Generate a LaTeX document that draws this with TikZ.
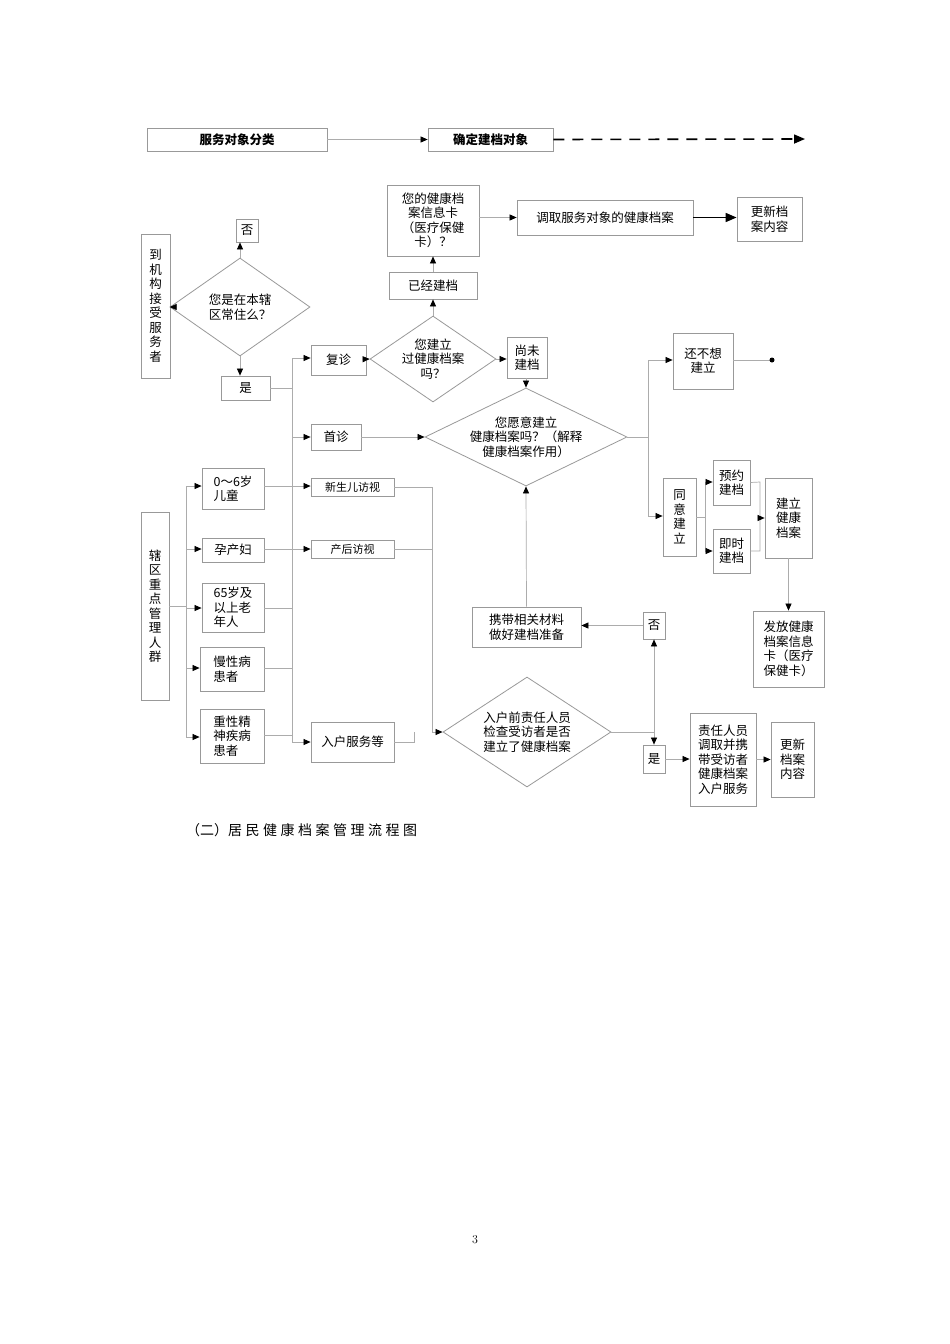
\documentclass[tikz,border=0pt]{standalone}
\usepackage{fontspec}
\setmainfont{Noto Sans CJK SC}
\newfontfamily\lmr{Latin Modern Roman}
\usetikzlibrary{arrows.meta,shapes.geometric}
\tikzset{
  box/.style={draw=gray!80,line width=0.8pt,inner sep=1pt,align=center,font=\fontsize{12.5}{14.5}\selectfont},
  sm/.style={font=\fontsize{11}{13}\selectfont},
  ln/.style={draw=gray!65,line width=0.7pt},
  ar/.style={ln,-{Triangle[length=7pt,width=6pt,color=black]}},
  dm/.style={draw=gray!80,line width=0.8pt,diamond,inner sep=0pt},
  dmt/.style={align=center,font=\fontsize{12.5}{14.5}\selectfont,inner sep=0pt},
}
\newcommand\bx[7][]{\node[box,#1,minimum width={(#5-#3)*1pt},minimum height={(#6-#4)*1pt}] (#2) at ({(#3+#5)/2},{(#4+#6)/2}) {#7};}
\newcommand\dmd[6]{\node[dm,minimum width={2*#5*1pt},minimum height={2*#6*1pt}] (#1) at (#3,#4) {};\node[dmt] at (#1) {#2};}
\begin{document}
\begin{tikzpicture}[x=1pt,y=-1pt]
\useasboundingbox[fill=white] (0,0) rectangle (950,1344);
% header
\bx[font=\fontsize{12.5}{14}\selectfont\bfseries]{h1}{147}{128}{327}{151}{服务对象分类}
\bx[font=\fontsize{12.5}{14}\selectfont\bfseries]{h2}{428}{128}{553}{151}{确定建档对象}
\draw[ar] (h1) -- (h2);
\coordinate (hend) at (805,139);
\draw[line width=1.6pt,dash pattern=on 11pt off 8pt,-{Triangle[length=11pt,width=9pt]}] (h2.east) -- (hend);
% top right
\bx{card}{387}{185}{479}{256}{您的健康档\\案信息卡\\（医疗保健\\卡）？}
\bx{get}{517}{200}{693}{235}{调取服务对象的健康档案}
\bx{upd1}{737}{197}{802}{241}{更新档\\案内容}
\draw[ar] (card.east|-get) -- (get);
\draw[line width=1.6pt,-{Triangle[length=11pt,width=9pt]}] (get.east) -- (upd1.west|-get);
\bx{yijing}{389}{272}{477}{299}{已经建档}
\draw[ar] (yijing) -- (card);
% left column top
\bx[inner sep=2pt]{dao}{141}{234}{170}{378}{到\\机\\构\\接\\受\\服\\务\\者}
\dmd{d1}{您是在本辖\\区常住么？}{240}{307}{70}{49}
\draw[ar] (dao.east|-d1) -- (d1.west);
\bx{fou1}{236}{219}{258}{242}{否}
\draw[ar] (d1.north) -- (fou1.south-|d1.north);
\bx{shi1}{221}{376}{270}{400}{是}
\draw[ar] (d1.south) -- (shi1.north-|d1.south);
% fuzhen
\bx{fuzhen}{311}{345}{366}{375}{复诊}
\bx{shouzhen}{311}{424}{361}{450}{首诊}
\dmd{d2}{您建立\\过健康档案\\吗？}{433}{359}{63}{43}
\draw[ar] (fuzhen) -- (d2.west);
\draw[ar] (d2) -- (yijing);
\bx{shangwei}{507}{337}{547}{378}{尚未\\建档}
\draw[ar] (d2.east) -- (shangwei.west|-d2.east);
\dmd{d3}{您愿意建立\\健康档案吗？（解释\\健康档案作用）}{526}{437}{101}{49}
\draw[ar] (shangwei.south-|d3.north) -- (d3.north);
\draw[ar] (shouzhen) -- (d3.west);
% right branch
\bx{buxiang}{673}{333}{733}{389}{还不想\\建立}
\coordinate (dot) at (772,360);
\draw[ln] (buxiang.east|-dot) -- (dot);
\fill (dot) circle (2.5pt);
\bx{tongyi}{663}{478}{696}{556}{同\\意\\建\\立}
\coordinate (jr) at (648,437);
\draw[ln] (d3.east) -- (jr);
\draw[ln] (648,360) -- (648,516);
\draw[ar] (648,360) -- (buxiang.west|-dot);
\draw[ar] (648,516) -- (tongyi.west|-0,516);
\bx{yuyue}{713}{460}{750}{505}{预约\\建档}
\bx{jishi}{713}{529}{750}{573}{即时\\建档}
\draw[ln] (tongyi.east) -- (705,517);
\draw[ln] (705,482) -- (705,551);
\draw[ar] (705,482) -- (yuyue.west|-0,482);
\draw[ar] (705,551) -- (jishi.west|-0,551);
\bx{jianli}{765}{478}{812}{558}{建立\\健康\\档案}
\draw[ln] (yuyue.east) -- (760,482) -- (760,551) -- (jishi.east);
\draw[ar] (760,518) -- (jianli.west|-0,518);
\bx{fafang}{753}{611}{824}{687}{发放健康\\档案信息\\卡（医疗\\保健卡）}
\draw[ar] (jianli.south) -- (jianli.south|-fafang.north);
% left bus
\draw[ln] (shi1.east) -- (292,388);
\draw[ln] (292,358) -- (292,742);
\draw[ar] (292,358) -- (fuzhen.west|-0,358);
\draw[ar] (292,437) -- (shouzhen.west);
% key population
\bx[inner sep=2pt]{xiaqu}{141}{512}{169}{700}{辖\\区\\重\\点\\管\\理\\人\\群}
\bx[align=left]{c06}{202}{468}{264}{509}{0～6岁\\儿童}
\bx[align=left]{yun}{202}{538}{264}{562}{孕产妇}
\bx[align=left]{old}{202}{583}{264}{632}{65岁及\\以上老\\年人}
\bx[align=left]{man}{200}{647}{264}{691}{慢性病\\患者}
\bx[align=left]{jing}{200}{709}{264}{763}{重性精\\神疾病\\患者}
\draw[ln] (xiaqu.east) -- (186,606);
\draw[ln] (186,486) -- (186,737);
\draw[ar] (186,486) -- (c06.west|-0,486);
\draw[ar] (186,549) -- (yun.west|-0,549);
\draw[ar] (186,608) -- (old.west|-0,608);
\draw[ar] (186,668) -- (man.west|-0,668);
\draw[ar] (186,737) -- (jing.west|-0,737);
\bx[sm]{xsr}{311}{478}{394}{496}{新生儿访视}
\bx[sm]{chh}{311}{540}{394}{558}{产后访视}
\bx{ruhu}{311}{722}{394}{762}{入户服务等}
\draw[ar] (c06.east|-0,486) -- (xsr.west|-0,486);
\draw[ar] (yun.east|-0,549) -- (chh.west|-0,549);
\draw[ln] (old.east|-0,608) -- (292,608);
\draw[ln] (man.east|-0,668) -- (292,668);
\draw[ln] (jing.east|-0,735) -- (292,735);
\draw[ar] (292,742) -- (ruhu.west|-0,742);
% home visit
\dmd{d4}{入户前责任人员\\检查受访者是否\\建立了健康档案}{527}{732}{84}{55}
\draw[ln] (xsr.east) -- (432,487) -- (432,732);
\draw[ln] (chh.east) -- (432,549);
\draw[ln] (ruhu.east) -- (414,742) -- (414,732);
\draw[ar] (432,732) -- (d4.west);
\bx{fou2}{643}{612}{665}{639}{否}
\bx{shi2}{643}{745}{665}{773}{是}
\draw[ln] (d4.east) -- (654,732);
\draw[ar] (654,732) -- (fou2.south);
\draw[ar] (654,732) -- (shi2.north);
\bx{xiedai}{472}{607}{581}{647}{携带相关材料\\做好建档准备}
\draw[ar] (fou2.west) -- (xiedai.east|-fou2.west);
\draw[ar] (xiedai.north) -- (d3.south);
\bx{zeren}{690}{713}{756}{806}{责任人员\\调取并携\\带受访者\\健康档案\\入户服务}
\draw[ar] (shi2.east) -- (zeren.west|-shi2.east);
\bx{upd2}{771}{722}{814}{797}{更新\\档案\\内容}
\draw[ar] (zeren.east|-upd2) -- (upd2.west);
% caption
\node[anchor=west,font=\fontsize{14}{16}\selectfont,inner sep=0pt] (cap) at (186,830) {（二）\addfontfeature{LetterSpace=25}居民健康档案管理流程图};
\node[font=\lmr\fontsize{12}{14}\selectfont] (pg) at (475,1240) {3};
\end{tikzpicture}
\end{document}
